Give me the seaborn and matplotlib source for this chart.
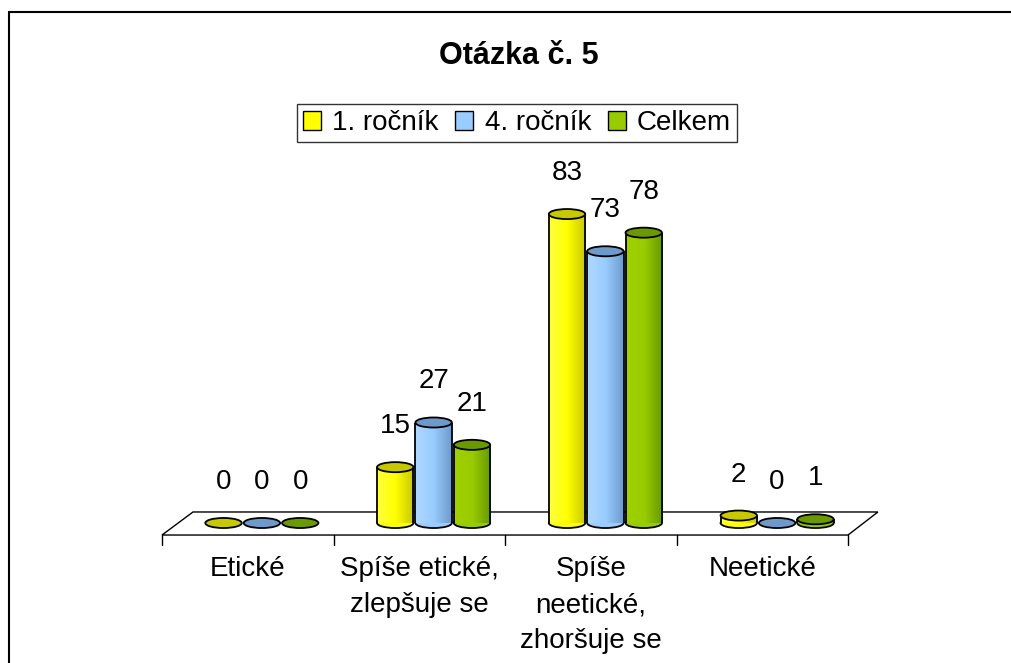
import numpy as np
import pandas as pd
import matplotlib
matplotlib.use("Agg")
import matplotlib.pyplot as plt
from matplotlib.patches import Ellipse, Polygon, Patch
from matplotlib.lines import Line2D
from matplotlib.colors import LinearSegmentedColormap
import seaborn as sns

# ---- data ----
categories = ["Etické", "Spíše etické,\nzlepšuje se", "Spíše\nneetické,\nzhoršuje se", "Neetické"]
series = ["1. ročník", "4. ročník", "Celkem"]
rocnik1 = [0, 15, 83, 2]
rocnik4 = [0, 27, 73, 0]
celkem = [0, 21, 78, 1]
title = "Otázka č. 5"

face_colors = ["#FFFF00", "#99CCFF", "#99CC00"]
grad_colors = [["#FFFF40", "#FFFF00", "#C8C800"],
               ["#B0D8FF", "#99CCFF", "#6E9ACB"],
               ["#A0D000", "#99CC00", "#669900"]]
top_colors = ["#C8C800", "#6E9ACB", "#6B9A00"]

df = pd.DataFrame({
    "cat": categories * 3,
    "val": rocnik1 + rocnik4 + celkem,
    "series": [s for s in series for _ in categories],
})

sns.set_style("white")
plt.rcParams["font.family"] = ["Liberation Sans", "DejaVu Sans"]
plt.rcParams["text.color"] = "black"

W, H = 1012, 663
fig = plt.figure(figsize=(W / 100, H / 100), dpi=100)
y0px, ytop_px = 523, 188
ax = fig.add_axes([176 / W, (H - y0px) / H, 687 / W, (y0px - ytop_px) / H])

sns.barplot(data=df, x="cat", y="val", hue="series", order=categories,
            hue_order=series, palette=face_colors, width=0.67, gap=0.05,
            legend=False, ax=ax, zorder=2)

YMAX = 90
ell_h = 2.7
for ci, cont in enumerate(ax.containers):
    cmap = LinearSegmentedColormap.from_list("g%d" % ci, grad_colors[ci])
    for bar in cont:
        x, w, h = bar.get_x(), bar.get_width(), bar.get_height()
        bar.set_edgecolor("none")
        bar.set_facecolor(face_colors[ci])
        bar.set_zorder(2)
        cx = x + w / 2
        if h > 0:
            ax.add_patch(Ellipse((cx, 0), w, ell_h, facecolor=grad_colors[ci][1],
                                 edgecolor="black", lw=1.3, zorder=1.9, clip_on=False))
            grad = np.linspace(0, 1, 64)[None, :]
            im = ax.imshow(grad, extent=(x, x + w, 0, h), cmap=cmap, aspect="auto",
                           zorder=2.1, interpolation="bilinear")
            im.set_clip_path(bar)
            ax.plot([x, x], [0, h], color="black", lw=1.3, zorder=2.2, solid_capstyle="butt")
            ax.plot([x + w, x + w], [0, h], color="black", lw=1.3, zorder=2.2, solid_capstyle="butt")
        ax.add_patch(Ellipse((cx, h), w, ell_h, facecolor=top_colors[ci],
                             edgecolor="black", lw=1.3, zorder=2.3, clip_on=False))
        ax.annotate("%d" % round(h), xy=(cx, h), xytext=(0, 41), textcoords="offset pixels",
                    ha="center", va="center", fontsize=20, color="black",
                    annotation_clip=False)

# floor (3D base)
fl, fr, bl, br = -0.5815, 3.4127, -0.401, 3.587
fy, by = -3.23, 2.96
ax.add_patch(Polygon([(fl, fy), (fr, fy), (br, by), (bl, by)], closed=True,
                     facecolor="white", edgecolor="black", lw=1.0, zorder=0.5, clip_on=False))
step = (fr - fl) / len(categories)
for k in range(len(categories) + 1):
    ax.plot([fl + k * step] * 2, [fy, fy - 2.7], color="black", lw=1.0, clip_on=False)
for k, lab in enumerate(categories):
    ax.text(fl + (k + 0.5) * step, -9.0, lab, ha="center", va="top", fontsize=20,
            linespacing=1.5, color="black")

ax.set_xlim(-0.5, len(categories) - 0.5)
ax.set_ylim(0, YMAX)
ax.axis("off")

# title
fig.text(519 / W, 1 - 56 / H, title, ha="center", va="center", fontsize=22,
         fontweight="bold", color="black")

# legend
handles = [Patch(facecolor=c, edgecolor="black", lw=1.0) for c in face_colors]
leg = fig.legend(handles, series, loc="center", bbox_to_anchor=(517 / W, 1 - 123 / H),
                 ncol=3, fontsize=20, frameon=True, fancybox=False, edgecolor="black",
                 handlelength=0.65, handleheight=0.65, handletextpad=0.4, columnspacing=0.6,
                 borderpad=0.2, borderaxespad=0, labelcolor="black")
leg.get_frame().set_linewidth(1.0)

# outer chart border
fig.add_artist(Line2D([9 / W, 9 / W], [0, 1 - 12 / H], color="black", lw=1.5,
                      transform=fig.transFigure))
fig.add_artist(Line2D([9 / W, 1], [1 - 12 / H, 1 - 12 / H], color="black", lw=1.5,
                      transform=fig.transFigure))

fig.savefig("out.png", dpi=100)
